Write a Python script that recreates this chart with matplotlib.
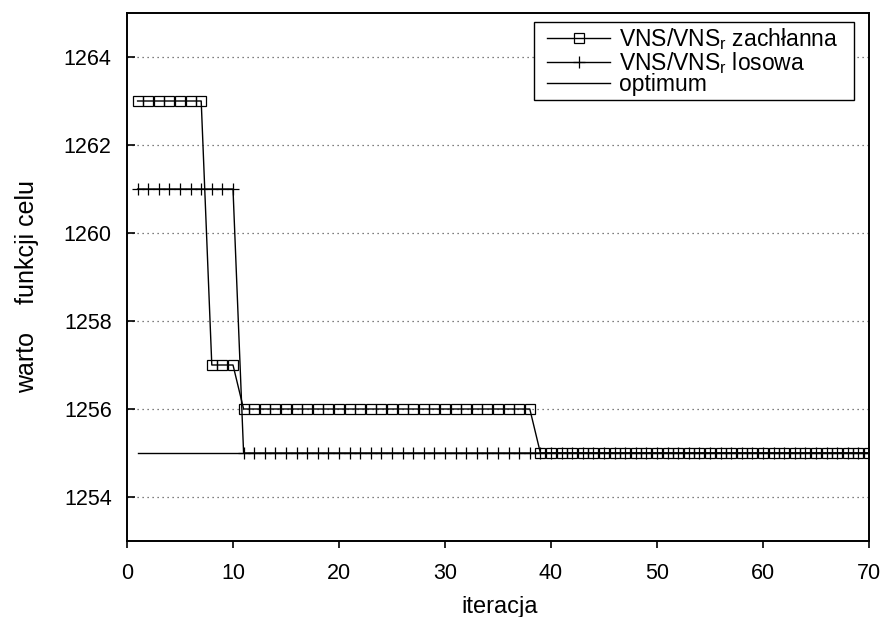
#!/usr/bin/env python3
"""Objective value per iteration for greedy and random VNS/VNS_r."""

import matplotlib
matplotlib.use('Agg')
import matplotlib.pyplot as plt
from matplotlib.patches import Rectangle
import numpy as np

plt.rcParams['font.family'] = ['Liberation Sans', 'DejaVu Sans']
plt.rcParams['mathtext.fontset'] = 'custom'
plt.rcParams['mathtext.rm'] = 'Liberation Sans'

# Best objective value found at each iteration
iteracje = np.arange(1, 71)
zachlanna = [1263] * 7 + [1257] * 3 + [1256] * 28 + [1255] * 32
losowa = [1261] * 10 + [1255] * 60
optimum = [1255] * 70

y_ticks = [1254, 1256, 1258, 1260, 1262, 1264]
x_ticks = [0, 10, 20, 30, 40, 50, 60, 70]

FS = 15.5
W, H = 886, 617
fig = plt.figure(figsize=(W / 100, H / 100), dpi=100)
ax = fig.add_axes([127 / W, (H - 541) / H, (869 - 127) / W, (541 - 13) / H])

ax.plot(iteracje, zachlanna, color='black', lw=1.0, marker='s', ms=7.5,
        mfc='none', mec='black', mew=0.9, label='VNS/VNS$_\\mathregular{r}$ zachłanna',
        zorder=4)
ax.plot(iteracje, losowa, color='black', lw=1.0, marker='+', ms=8,
        mew=0.9, label='VNS/VNS$_\\mathregular{r}$ losowa', zorder=3)
ax.plot(iteracje, optimum, color='black', lw=1.0, label='optimum', zorder=2)

ax.set_xlim(0, 70)
ax.set_ylim(1253, 1265)
ax.set_xticks(x_ticks)
ax.set_yticks(y_ticks)
ax.tick_params(axis='y', direction='in', length=6, width=1.2, labelsize=FS, pad=11)
ax.tick_params(axis='x', direction='out', length=5, width=1.2, labelsize=FS, pad=11)

ax.yaxis.grid(True, linestyle=(0, (1, 3)), color='#555555', lw=0.9)
ax.xaxis.grid(False)
for s in ax.spines.values():
    s.set_linewidth(1.4)

# axis titles placed in figure pixels
fig.text(500 / W, 1 - 613 / H, 'iteracja', fontsize=17, ha='center', va='baseline')
fig.text(27 / W, 1 - 287 / H, 'warto    funkcji celu', fontsize=18,
         rotation=90, ha='center', va='center')

# key box drawn separately so its padding can be wider than the entries need
key_box = Rectangle((534 / W, 1 - 100 / H), 320 / W, 78 / H, transform=fig.transFigure,
                    facecolor='white', edgecolor='black', lw=1.0, zorder=4.9,
                    clip_on=False)
ax.add_patch(key_box)

leg = ax.legend(loc='upper left', bbox_to_anchor=(547 / W, 1 - 26 / H),
                bbox_transform=fig.transFigure, fontsize=16.5, frameon=False,
                numpoints=1, handlelength=2.75, handletextpad=0.4, borderpad=0,
                labelspacing=-0.1, borderaxespad=0)
leg.set_zorder(6)

fig.savefig('out.png', dpi=100, facecolor='white')
